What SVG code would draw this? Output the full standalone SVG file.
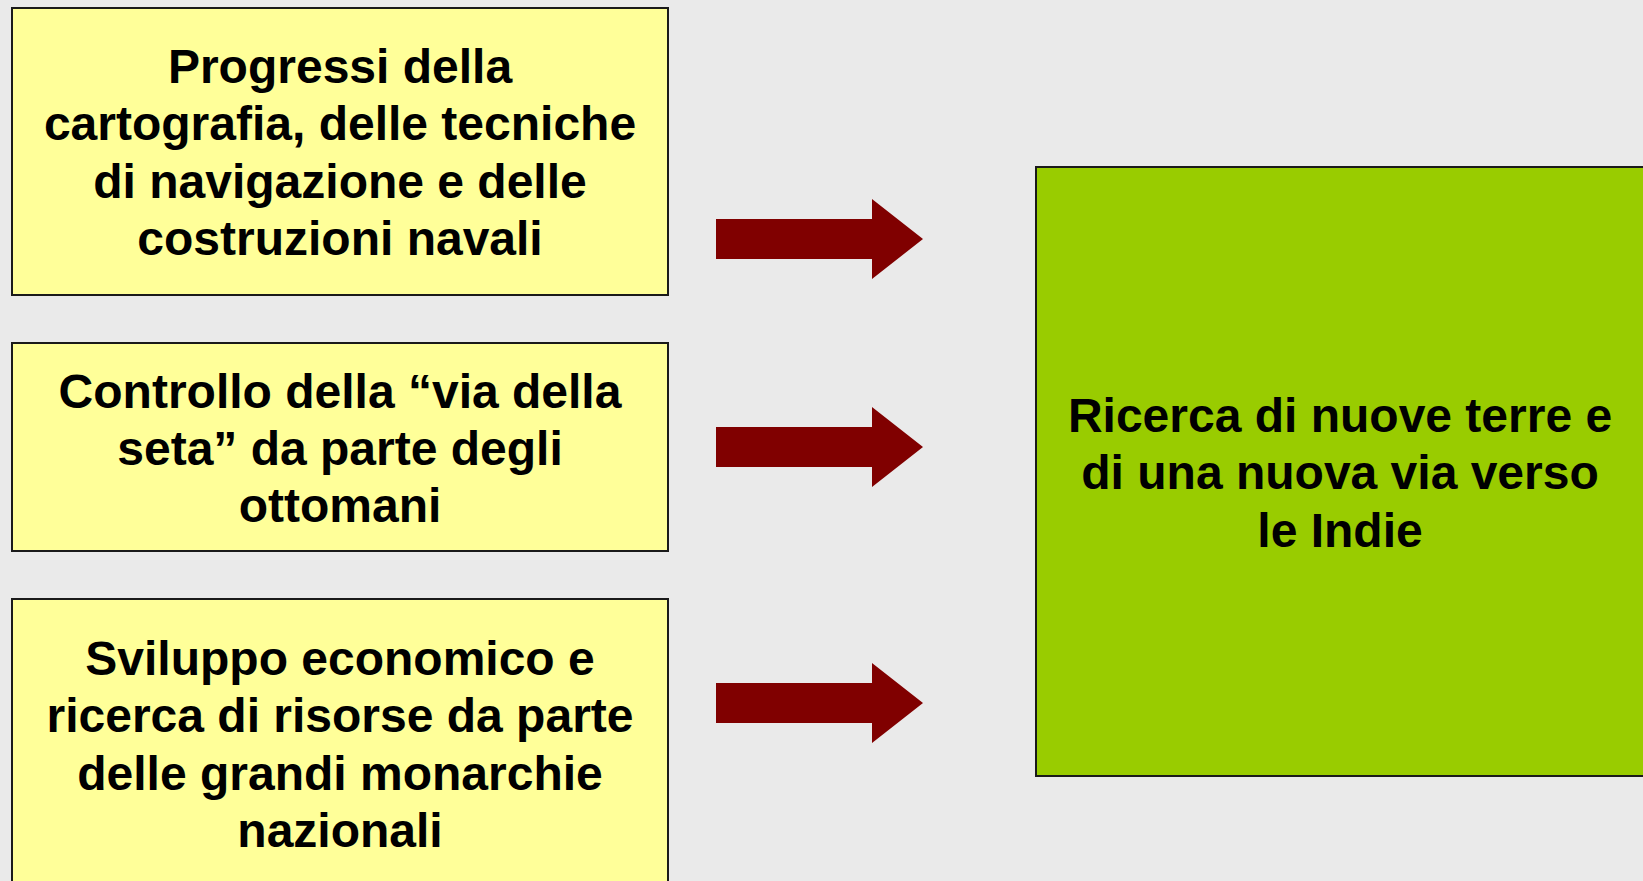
<svg xmlns="http://www.w3.org/2000/svg" width="1643" height="881" viewBox="0 0 1643 881">
<style>
.bg{fill:#eaeaea}
.src rect{fill:#ffff99;stroke:#1a1a1a;stroke-width:2}
.dst rect{fill:#99cc00;stroke:#1a1a1a;stroke-width:2}
text{font-family:"Liberation Sans",Arial,sans-serif;font-weight:bold;font-size:48px;fill:#000;text-anchor:middle}
.arrow{fill:#800000}
</style>
<defs>
<path id="arr" d="M0,-20 H156 V-40 L207,0 L156,40 V20 H0 Z"/>
</defs>
<rect class="bg" x="0" y="0" width="1643" height="881"/>
<g id="node-cartografia" class="src">
<rect x="12" y="8" width="656" height="287"/>
<text x="340" y="83">Progressi della</text>
<text x="340" y="140.3">cartografia, delle tecniche</text>
<text x="340" y="197.6">di navigazione e delle</text>
<text x="340" y="254.9">costruzioni navali</text>
</g>
<g id="node-seta" class="src">
<rect x="12" y="343" width="656" height="208"/>
<text x="340" y="407.5">Controllo della “via della</text>
<text x="340" y="464.8">seta” da parte degli</text>
<text x="340" y="522.1">ottomani</text>
</g>
<g id="node-sviluppo" class="src">
<rect x="12" y="599" width="656" height="300"/>
<text x="340" y="675">Sviluppo economico e</text>
<text x="340" y="732.3">ricerca di risorse da parte</text>
<text x="340" y="789.6">delle grandi monarchie</text>
<text x="340" y="846.9">nazionali</text>
</g>
<g id="node-ricerca" class="dst">
<rect x="1036" y="167" width="620" height="609"/>
<text x="1340" y="432">Ricerca di nuove terre e</text>
<text x="1340" y="489.3">di una nuova via verso</text>
<text x="1340" y="546.6">le Indie</text>
</g>
<g id="connectors" class="arrow">
<use href="#arr" x="716" y="239"/>
<use href="#arr" x="716" y="447"/>
<use href="#arr" x="716" y="703"/>
</g>
</svg>
